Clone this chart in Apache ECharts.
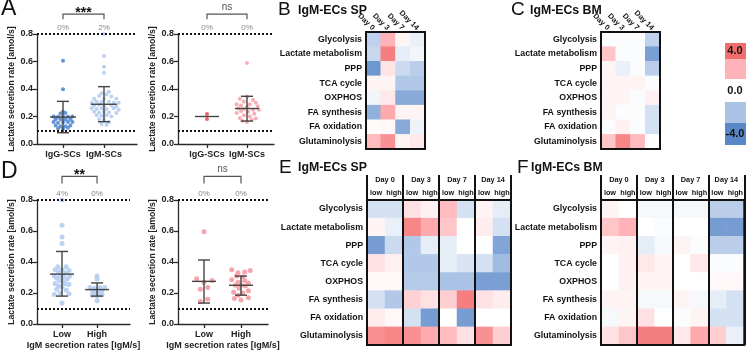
<!DOCTYPE html>
<html>
<head>
<meta charset="utf-8">
<script src="https://cdn.jsdelivr.net/npm/echarts@6/dist/echarts.min.js"></script>
<style>
  html, body { margin: 0; padding: 0; background: #fff; }
  #chart { width: 746px; height: 351px; }
</style>
</head>
<body>
<div id="chart"></div>
<script>
// ---- data ----
const pathways = ['Glycolysis', 'Lactate metabolism', 'PPP', 'TCA cycle', 'OXPHOS', 'FA synthesis', 'FA oxidation', 'Glutaminolysis'];
const days = ['Day 0', 'Day 3', 'Day 7', 'Day 14'];
const levelCols = ['low', 'high', 'low', 'high', 'low', 'high', 'low', 'high'];
const catsA = ['IgG-SCs', 'IgM-SCs'];
const catsD = ['Low', 'High'];

const spDay = [
  [-1.5, 2.0, 0.3, -0.5],
  [-1.3, 3.5, -0.6, -0.3],
  [-3.5, 0.7, -1.2, -1.6],
  [0.3, 0.3, -1.8, -1.8],
  [-0.3, 0.6, -2.8, -2.8],
  [-2.6, 2.3, 0.3, 0.3],
  [0.1, 0.2, -2.8, -0.4],
  [1.8, 3.0, 0.3, 0.6]
];
const bmDay = [
  [-0.1, -0.1, -0.1, -1.5],
  [1.5, -0.1, -0.1, -3.2],
  [0.3, -0.5, -0.1, -1.6],
  [0.3, 0.3, 0.3, -0.1],
  [0.3, 0.3, -0.1, 0.4],
  [0.3, -0.1, -0.1, -1.0],
  [-0.1, 0.4, -0.1, -1.0],
  [1.5, 3.3, 1.8, 0.0]
];
const spLevel = [
  [-1.0, -1.0, 0.8, 0.4, 1.8, -1.0, 0.3, -0.6],
  [0.3, -0.5, 3.3, 2.3, 1.5, 0.0, 0.5, -1.0],
  [-3.3, -1.2, -1.8, -0.6, -0.6, 0.0, 0.0, -3.0],
  [0.8, 0.4, -1.8, -1.8, -0.6, -0.9, -1.0, -2.2],
  [0.2, 0.2, -1.7, -1.7, -2.0, -2.0, -3.2, -3.2],
  [-1.0, -1.8, 1.2, 0.8, 1.3, 3.5, 0.8, 0.5],
  [0.5, 0.2, -1.0, -3.3, 0.0, -3.3, 0.0, 0.0],
  [3.0, 3.3, 3.0, 2.2, 1.8, 0.8, 3.0, 1.3]
];
const bmLevel = [
  [0.3, 0.0, -0.2, -0.2, -0.2, -0.2, -1.6, -1.6],
  [1.5, 2.0, 0.0, -0.1, 0.0, 0.0, -3.3, -3.3],
  [0.3, 0.4, -0.6, -0.2, 0.3, -0.1, -1.6, -1.6],
  [0.0, 0.4, 0.6, 0.3, 0.0, 0.6, -0.1, -0.1],
  [0.0, 0.4, 0.3, 0.3, 0.0, 0.0, 0.2, 0.2],
  [0.3, 0.3, -0.2, -0.2, 0.3, -0.2, -0.6, -1.0],
  [-0.2, 0.3, 0.8, 0.0, -0.1, 0.3, -1.0, -1.0],
  [0.8, 1.5, 3.5, 3.5, 0.6, 2.3, 1.3, -0.5]
];

// scatter points [x (category 1/2 + jitter), rate]
const aIgG = [[1.0,0.606],[1.0,0.398],[1.0,0.235],[0.94,0.222],[1.06,0.225],[0.77,0.2],[0.88,0.198],[1.0,0.2],[1.12,0.198],[1.23,0.2],
  [0.82,0.18],[0.94,0.18],[1.06,0.178],[1.18,0.18],[0.77,0.16],[0.88,0.155],[1.0,0.158],[1.12,0.16],[1.23,0.16],[0.82,0.135],
  [0.94,0.13],[1.06,0.13],[1.18,0.135],[0.88,0.115],[1.0,0.11],[1.12,0.118]];
const aIgM = [[2,0.8],[2,0.64],[2,0.562],[2,0.519],[2.12,0.38],[1.94,0.37],[2.06,0.36],[1.88,0.35],[2.18,0.345],[1.76,0.33],
  [2.0,0.33],[2.3,0.33],[1.82,0.31],[1.94,0.305],[2.12,0.31],[2.24,0.3],[1.7,0.3],[2.36,0.3],[1.76,0.28],[1.88,0.285],
  [2.0,0.28],[2.18,0.28],[2.3,0.275],[1.7,0.26],[1.82,0.255],[1.94,0.26],[2.06,0.255],[2.24,0.26],[2.36,0.25],[1.76,0.235],
  [1.88,0.23],[2.0,0.235],[2.12,0.23],[2.3,0.225],[1.82,0.21],[1.94,0.205],[2.06,0.21],[2.18,0.2],[1.88,0.18],[2.0,0.175],
  [2.12,0.16],[1.94,0.145],[2.06,0.14]];
const aBmIgG = [[1,0.218],[1,0.182]];
const aBmIgM = [[2,0.59],[2.0,0.345],[1.82,0.33],[2.15,0.32],[1.92,0.31],[2.22,0.3],[1.74,0.29],[2.07,0.29],[1.85,0.28],[2.27,0.275],
  [2.0,0.27],[1.78,0.26],[1.92,0.255],[2.15,0.25],[2.3,0.25],[1.85,0.24],[2.03,0.235],[1.74,0.225],[2.18,0.22],[1.92,0.21],
  [2.07,0.2],[1.82,0.19],[2.22,0.185],[1.88,0.17],[2.12,0.175],[2.0,0.16]];
const dLow = [[1,0.8],[1,0.637],[1,0.561],[1,0.52],[0.88,0.37],[1.12,0.37],[0.8,0.35],[1.0,0.35],[1.2,0.345],[0.9,0.335],
  [1.1,0.33],[0.78,0.31],[0.95,0.31],[1.05,0.305],[1.22,0.31],[0.85,0.295],[1.15,0.29],[0.92,0.28],[1.02,0.275],[0.8,0.26],
  [1.1,0.26],[1.2,0.255],[0.9,0.245],[1.0,0.24],[0.85,0.225],[1.12,0.22],[0.95,0.2],[0.78,0.19],[1.2,0.195],[1.0,0.135]];
const dHigh = [[2,0.31],[2,0.29],[1.8,0.235],[1.92,0.23],[2.08,0.235],[2.22,0.235],[1.86,0.215],[2.0,0.22],[2.14,0.215],
  [1.92,0.2],[2.06,0.195],[1.86,0.185],[2.0,0.18],[2.14,0.19],[2.0,0.15]];
const dBmLow = [[1,0.595],[0.8,0.292],[1.22,0.28],[1.0,0.27],[1.1,0.235],[0.9,0.225],[1.1,0.16],[0.9,0.145]];
const dBmHigh = [[1.75,0.35],[2.25,0.345],[2.1,0.335],[1.92,0.33],[1.88,0.31],[2.05,0.305],[1.75,0.285],[2.1,0.28],[1.92,0.27],
  [2.2,0.265],[1.85,0.25],[2.0,0.25],[2.12,0.245],[1.95,0.23],[2.2,0.215],[1.8,0.205],[2.05,0.2],[1.92,0.185],[2.2,0.17],
  [1.82,0.165],[2.0,0.155]];

// mean and sd bars [x, mean, low, high]
const barsA = [[1, 0.196, 0.082, 0.31], [2, 0.289, 0.162, 0.417]];
const barsAbm = [[1, 0.2, 0.2, 0.2], [2, 0.258, 0.167, 0.347]];
const barsD = [[1, 0.322, 0.18, 0.468], [2, 0.222, 0.18, 0.265]];
const barsDbm = [[1, 0.275, 0.135, 0.413], [2, 0.25, 0.186, 0.309]];

// percentages above 0.8 and significance
const pctA = ['0%', '2%'];
const pctAbm = ['0%', '0%'];
const pctD = ['4%', '0%'];
const pctDbm = ['0%', '0%'];
const sig = ['***', 'ns', '**', 'ns'];

// ---- chart ----
const chart = echarts.init(document.getElementById('chart'));
const FONT = 'Liberation Sans, Arial, sans-serif';
const AX = '#2a2a2a';
const hmColors = ['#5a87c8', '#a9c2e5', '#ffffff', '#ffb3b8', '#f26d6d'];

function toCells(mat) {
  const out = [];
  mat.forEach((row, r) => row.forEach((v, c) => out.push([c, r, v])));
  return out;
}

function scatterX(gi, cats, min, max, name) {
  return {
    type: 'value', gridIndex: gi, min: min, max: max,
    axisLine: { show: true, onZero: false, lineStyle: { color: AX, width: 1.3 } },
    axisTick: { show: true, length: 4, customValues: [1, 2], lineStyle: { color: AX, width: 1.3 } },
    axisLabel: { customValues: [1, 2], formatter: v => cats[Math.round(v) - 1], margin: 6,
      fontFamily: FONT, fontWeight: 'bold', fontSize: 9, color: '#222' },
    splitLine: { show: false },
    name: name || '', nameLocation: 'middle', nameGap: 17,
    nameTextStyle: { fontFamily: FONT, fontWeight: 'bold', fontSize: 9, color: '#222' }
  };
}
function scatterY(gi, gap) {
  return {
    type: 'value', gridIndex: gi, min: 0, max: 0.8, interval: 0.2,
    axisLine: { show: true, lineStyle: { color: AX, width: 1.3 } },
    axisTick: { show: true, length: 4, lineStyle: { color: AX, width: 1.3 } },
    axisLabel: { formatter: v => v.toFixed(1), margin: 4, fontFamily: FONT, fontWeight: 'bold', fontSize: 9, color: '#222' },
    splitLine: { show: false },
    name: 'Lactate secretion rate [amol/s]', nameLocation: 'middle', nameGap: gap,
    nameTextStyle: { fontFamily: FONT, fontWeight: 'bold', fontSize: 8.7, color: '#222' }
  };
}
function dots(i, data, color, size) {
  return { type: 'scatter', xAxisIndex: i, yAxisIndex: i, data: data, symbolSize: size,
    itemStyle: { color: color, opacity: 0.95 }, z: 3, silent: true };
}
function sdBars(i, data, halfMean) {
  return {
    type: 'custom', xAxisIndex: i, yAxisIndex: i, data: data, z: 4, silent: true,
    renderItem: function (params, api) {
      const m = api.coord([api.value(0), api.value(1)]);
      const lo = api.coord([api.value(0), api.value(2)]);
      const hi = api.coord([api.value(0), api.value(3)]);
      const st = { stroke: '#444', lineWidth: 1.4, fill: null };
      const kids = [{ type: 'line', shape: { x1: m[0] - halfMean, y1: m[1], x2: m[0] + halfMean, y2: m[1] }, style: st }];
      if (hi[1] !== lo[1]) {
        kids.push({ type: 'line', shape: { x1: lo[0], y1: lo[1], x2: hi[0], y2: hi[1] }, style: st });
        kids.push({ type: 'line', shape: { x1: lo[0] - 6, y1: lo[1], x2: lo[0] + 6, y2: lo[1] }, style: st });
        kids.push({ type: 'line', shape: { x1: hi[0] - 6, y1: hi[1], x2: hi[0] + 6, y2: hi[1] }, style: st });
      }
      return { type: 'group', children: kids };
    }
  };
}
function refLines(i, pct) {
  return {
    type: 'scatter', xAxisIndex: i, yAxisIndex: i, silent: true, symbolSize: 1,
    itemStyle: { color: 'rgba(0,0,0,0)' },
    data: pct.map((p, k) => [k + 1, 0.8, p]),
    label: { show: true, position: 'top', distance: 2, formatter: p => p.value[2],
      fontFamily: FONT, fontSize: 8, color: '#666' },
    markLine: { silent: true, symbol: 'none', label: { show: false },
      lineStyle: { type: [2, 2], color: '#111', width: 2 },
      data: [{ yAxis: 0.8 }, { yAxis: 0.1 }] }
  };
}
function bracket(i, text, yLeg, yTop) {
  return {
    type: 'custom', xAxisIndex: i, yAxisIndex: i, silent: true, clip: false,
    data: [[1, 2, yLeg, yTop]],
    renderItem: function (params, api) {
      const a = api.coord([api.value(0), api.value(2)]);
      const b = api.coord([api.value(0), api.value(3)]);
      const c = api.coord([api.value(1), api.value(3)]);
      const d = api.coord([api.value(1), api.value(2)]);
      const star = text.indexOf('*') >= 0;
      return { type: 'group', children: [
        { type: 'polyline', shape: { points: [a, b, c, d] }, style: { stroke: '#555', lineWidth: 1.2, fill: null } },
        { type: 'text', x: (b[0] + c[0]) / 2, y: star ? b[1] - 1 : b[1] - 7,
          style: { text: text, align: 'center', verticalAlign: 'middle',
          fontFamily: FONT, fontSize: star ? 14 : 10, fontWeight: star ? 'bold' : 'normal', fill: star ? '#111' : '#555' } }
      ] };
    }
  };
}
function rowAxis(gi) {
  return {
    type: 'category', gridIndex: gi, data: pathways, inverse: true,
    axisLine: { show: false }, axisTick: { show: false }, splitLine: { show: false },
    axisLabel: { margin: 4, fontFamily: FONT, fontWeight: 'bold', fontSize: 8.8, color: '#111' }
  };
}
function levelAxis(gi) {
  return { type: 'category', gridIndex: gi, position: 'top', data: levelCols,
    axisLine: { show: false }, axisTick: { show: false },
    axisLabel: { interval: 0, margin: 4, fontFamily: FONT, fontWeight: 'bold', fontSize: 7.3, color: '#111' } };
}
function dayAxis(gi) {
  return { type: 'category', gridIndex: gi, position: 'top', data: days, z: 10,
    axisLine: { show: true, lineStyle: { color: '#111', width: 2 } },
    axisTick: { show: true, length: 25, lineStyle: { color: '#111', width: 2 } },
    splitLine: { show: true, lineStyle: { color: '#111', width: 2 } },
    axisLabel: { interval: 0, margin: 17, fontFamily: FONT, fontWeight: 'bold', fontSize: 7.3, color: '#111' } };
}
function rotDayAxis(gi) {
  return { type: 'category', gridIndex: gi, position: 'top', data: days,
    axisLine: { show: false }, axisTick: { show: false },
    axisLabel: { interval: 0, rotate: 45, margin: 3,
      fontFamily: FONT, fontWeight: 'bold', fontSize: 7.5, color: '#111' } };
}
function heatmap(xi, yi, mat) {
  return { type: 'heatmap', xAxisIndex: xi, yAxisIndex: yi, data: toCells(mat), silent: true,
    itemStyle: { borderWidth: 0 }, emphasis: { disabled: true } };
}
const hmGrid = { show: true, borderColor: '#111', borderWidth: 2, backgroundColor: 'transparent', z: 10 };
const letter = (t, x, y, s) => ({ text: t, left: x, top: y, padding: 0,
  textStyle: { fontSize: s, fontWeight: 'normal', color: '#111', fontFamily: FONT } });
const head = (t, x, y) => ({ text: t, left: x, top: y, padding: 0,
  textStyle: { fontSize: 12.3, fontWeight: 'bold', color: '#111', fontFamily: FONT } });

const option = {
  animation: false,
  textStyle: { fontFamily: FONT },
  title: [
    letter('A', 1, -3, 23), letter('D', 1, 160, 23),
    letter('B', 278, 0, 19), head('IgM-ECs SP', 298, 5),
    letter('C', 511, 0, 19), head('IgM-ECs BM', 530, 5),
    letter('E', 279, 158, 19), head('IgM-ECs SP', 298, 162),
    letter('F', 517, 158, 19), head('IgM-ECs BM', 531, 162)
  ],
  grid: [
    { left: 37, top: 34, width: 100, height: 110 },
    { left: 178, top: 34, width: 96, height: 110 },
    { left: 37, top: 200, width: 93, height: 126 },
    { left: 178, top: 200, width: 90, height: 126 },
    Object.assign({ left: 366, top: 32, width: 59, height: 117 }, hmGrid),
    Object.assign({ left: 601, top: 32, width: 59, height: 117 }, hmGrid),
    Object.assign({ left: 367, top: 200, width: 144, height: 145 }, hmGrid),
    Object.assign({ left: 601, top: 200, width: 144, height: 145 }, hmGrid)
  ],
  xAxis: [
    scatterX(0, catsA, 0.366, 2.805),
    scatterX(1, catsA, 0.275, 2.675),
    scatterX(2, catsD, 0.286, 2.94, 'IgM secretion rates [IgM/s]'),
    scatterX(3, catsD, 0.297, 2.73, 'IgM secretion rates [IgM/s]'),
    rotDayAxis(4), rotDayAxis(5),
    levelAxis(6), dayAxis(6),
    levelAxis(7), dayAxis(7)
  ],
  yAxis: [
    scatterY(0, 21), scatterY(1, 11), scatterY(2, 21), scatterY(3, 14),
    rowAxis(4), rowAxis(5), rowAxis(6), rowAxis(7)
  ],
  visualMap: {
    type: 'continuous', show: false, min: -4, max: 4, seriesIndex: [20, 21, 22, 23],
    inRange: { color: hmColors }
  },
  graphic: [
    { type: 'rect', shape: { x: 725, y: 43, width: 22, height: 16 }, style: { fill: '#f26d6d' } },
    { type: 'rect', shape: { x: 725, y: 59, width: 22, height: 20 }, style: { fill: '#ffb3b8' } },
    { type: 'rect', shape: { x: 725, y: 102, width: 22, height: 21 }, style: { fill: '#a9c2e5' } },
    { type: 'rect', shape: { x: 725, y: 123, width: 22, height: 22 }, style: { fill: '#5a87c8' } },
    { type: 'text', x: 735, y: 51, style: { text: '4.0', align: 'center', verticalAlign: 'middle', fontFamily: FONT, fontWeight: 'bold', fontSize: 11, fill: '#111' } },
    { type: 'text', x: 735, y: 91, style: { text: '0.0', align: 'center', verticalAlign: 'middle', fontFamily: FONT, fontWeight: 'bold', fontSize: 11, fill: '#111' } },
    { type: 'text', x: 735, y: 134, style: { text: '-4.0', align: 'center', verticalAlign: 'middle', fontFamily: FONT, fontWeight: 'bold', fontSize: 11, fill: '#111' } }
  ],
  series: [
    dots(0, aIgG, '#5b8fd4', 4), dots(0, aIgM, '#b7d0f0', 4), sdBars(0, barsA, 13), refLines(0, pctA), bracket(0, sig[0], 0.907, 0.945),
    dots(1, aBmIgG, '#ee5a66', 4), dots(1, aBmIgM, '#f9a9b0', 4), sdBars(1, barsAbm, 12), refLines(1, pctAbm), bracket(1, sig[1], 0.907, 0.945),
    dots(2, dLow, '#b7d0f0', 5), dots(2, dHigh, '#b7d0f0', 5), sdBars(2, barsD, 12), refLines(2, pctD), bracket(2, sig[2], 0.906, 0.952),
    dots(3, dBmLow, '#f7a0a8', 5), dots(3, dBmHigh, '#f7a0a8', 5), sdBars(3, barsDbm, 12), refLines(3, pctDbm), bracket(3, sig[3], 0.906, 0.952),
    heatmap(4, 4, spDay),
    heatmap(5, 5, bmDay),
    heatmap(6, 6, spLevel),
    heatmap(8, 7, bmLevel)
  ]
};
chart.setOption(option);
window.addEventListener('resize', () => chart.resize());
</script>
</body>
</html>
